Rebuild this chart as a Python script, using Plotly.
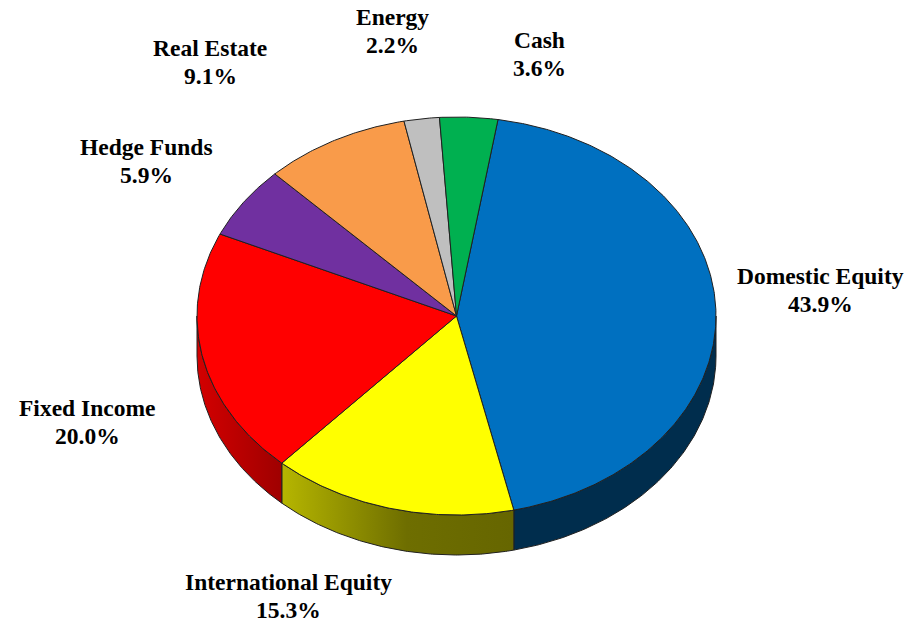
import numpy as np
import plotly.graph_objects as go

# ---- data ----
categories = ["Domestic Equity", "International Equity", "Fixed Income",
              "Hedge Funds", "Real Estate", "Energy", "Cash"]
values = [43.9, 15.3, 20.0, 5.9, 9.1, 2.2, 3.6]

# ---- styles ----
top_colors = ["#0070C0", "#FFFF00", "#FF0000", "#7030A0", "#F99B4A", "#BFBFBF", "#00B050"]
side_gradients = {
    "Domestic Equity": ([[0, "#002D4D"], [1, "#002D4D"]], 505, 720),
    "International Equity": ([[0, "#B8B800"], [0.55, "#6E6E00"], [1, "#666600"]], 278, 512),
    "Fixed Income": ([[0, "#D40000"], [1, "#A00000"]], 196, 280),
}
label_pos = {
    "Domestic Equity": (820, 276),
    "International Equity": (288, 582),
    "Fixed Income": (87, 408),
    "Hedge Funds": (146, 147),
    "Real Estate": (210, 48),
    "Energy": (392, 17),
    "Cash": (539, 40),
}
W, H = 909, 622
cx, cy, rx, ry, depth = 456.5, 316.0, 259.5, 199.0, 40.0
start_angle = 80.8
edge = "#202020"
font = dict(family="Liberation Serif, Times New Roman, serif", size=23.5, color="black")


def ell(theta_deg, dy=0.0):
    t = np.radians(theta_deg)
    return cx + rx * np.cos(t), cy - ry * np.sin(t) + dy


fig = go.Figure()

total = sum(values)
angles = []
a = start_angle
for v in values:
    span = 360.0 * v / total
    angles.append((a, a - span))
    a -= span

# side walls (front half: angles between -180 and 0)
for cat, (a1, a2) in zip(categories, angles):
    lo, hi = max(a2, -180.0), min(a1, 0.0)
    if hi <= lo:
        continue
    th = np.linspace(hi, lo, 120)
    xt, yt = ell(th)
    xb, yb = ell(th[::-1], depth)
    xs = np.concatenate([xt, xb, xt[:1]])
    ys = np.concatenate([yt, yb, yt[:1]])
    cs, s0, s1 = side_gradients[cat]
    fig.add_trace(go.Scatter(
        x=xs, y=ys, mode="lines", fill="toself",
        line=dict(color=edge, width=1),
        fillgradient=dict(type="horizontal", colorscale=cs, start=s0, stop=s1),
        hoverinfo="skip", showlegend=False))

# top faces
for cat, col, (a1, a2) in zip(categories, top_colors, angles):
    n = max(int(abs(a1 - a2) * 2), 8)
    th = np.linspace(a1, a2, n)
    xa, ya = ell(th)
    xs = np.concatenate([[cx], xa, [cx]])
    ys = np.concatenate([[cy], ya, [cy]])
    fig.add_trace(go.Scatter(
        x=xs, y=ys, mode="lines", fill="toself", fillcolor=col,
        line=dict(color=edge, width=1),
        hoverinfo="skip", showlegend=False))

# labels
for cat, v in zip(categories, values):
    lx, ly = label_pos[cat]
    for i, txt in enumerate([cat, f"{v:.1f}%"]):
        fig.add_annotation(x=lx, y=ly + i * 28, text=f"<b>{txt}</b>",
                           showarrow=False, font=font,
                           xanchor="center", yanchor="middle")

fig.update_layout(
    width=W, height=H,
    margin=dict(l=0, r=0, t=0, b=0),
    paper_bgcolor="white", plot_bgcolor="white",
    xaxis=dict(range=[0, W], visible=False, fixedrange=True),
    yaxis=dict(range=[H, 0], visible=False, fixedrange=True),
    showlegend=False,
)

fig.write_html("out.html",
               config={"displayModeBar": False},
               post_script="document.body.style.margin='0';document.body.style.overflow='hidden';")
